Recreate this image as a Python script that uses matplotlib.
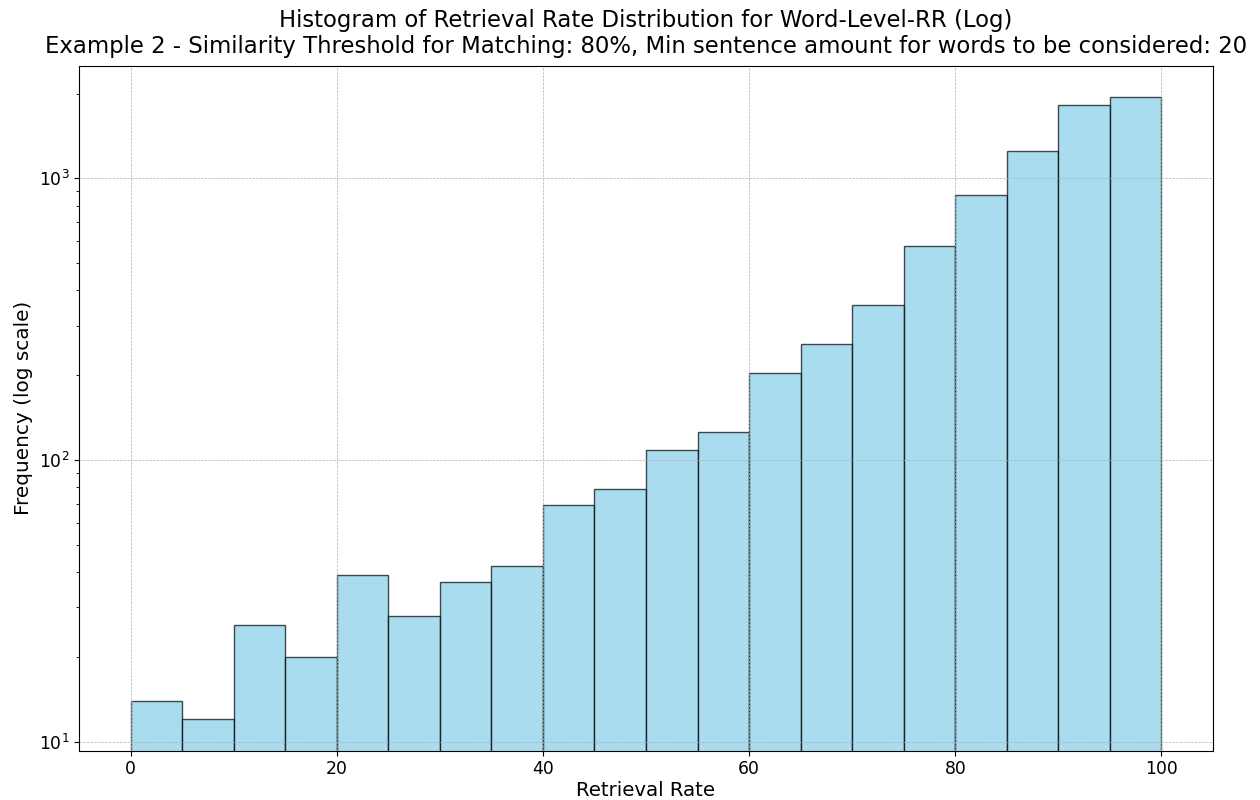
import numpy as np
import matplotlib.pyplot as plt

# bin edges (retrieval rate, %) and counts per bin
bin_edges = list(range(0, 105, 5))
counts = [14, 12, 26, 20, 39, 28, 37, 42, 69, 79,
          109, 126, 203, 258, 354, 577, 875, 1253, 1825, 1944]

fig = plt.figure(figsize=(12.6, 8), dpi=100)
# axes box placed to match the reference layout
ax = fig.add_axes([79 / 1260, 1 - 750.5 / 800, (1213 - 79) / 1260, (750.5 - 66) / 800])

ax.hist(bin_edges[:-1], bins=bin_edges, weights=counts, log=True,
        color="skyblue", edgecolor="black", alpha=0.7)

ax.set_title("Histogram of Retrieval Rate Distribution for Word-Level-RR (Log)\n"
             "Example 2 - Similarity Threshold for Matching: 80%, "
             "Min sentence amount for words to be considered: 20",
             fontsize=16.35, pad=9)
ax.set_xlabel("Retrieval Rate", fontsize=14.2, labelpad=2)
ax.set_ylabel("Frequency (log scale)", fontsize=14.4)
ax.tick_params(labelsize=12.4)
ax.grid(True, which="major", linestyle="--", linewidth=0.5)

plt.savefig("out.png")
